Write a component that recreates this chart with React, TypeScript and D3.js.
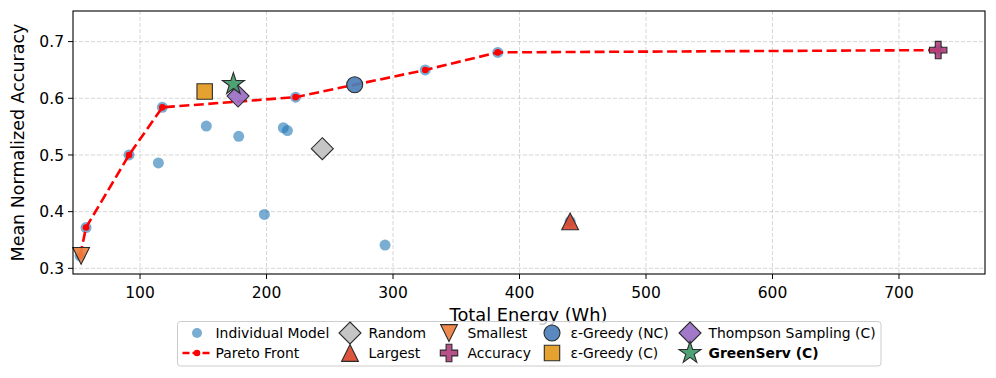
import React from "react";
import * as d3 from "d3";

// Individual models (energy Wh, mean normalized accuracy)
const modelEnergy = [52.6, 57.3, 91.3, 114.5, 117.6, 152.4, 178, 198.3, 213.3, 216.5, 223, 293.7, 325.5, 382.8, 440, 731];
const modelAccuracy = [0.322, 0.372, 0.5, 0.486, 0.584, 0.551, 0.533, 0.395, 0.548, 0.543, 0.602, 0.341, 0.65, 0.681, 0.383, 0.685];

// Pareto front
const paretoEnergy = [52.6, 57.3, 91.3, 117.6, 223, 325.5, 382.8, 731];
const paretoAccuracy = [0.322, 0.372, 0.5, 0.584, 0.602, 0.65, 0.681, 0.685];

// Routing strategies
const strategyNames = ["Random", "Largest", "Smallest", "Accuracy", "ε-Greedy (NC)", "ε-Greedy (C)", "Thompson Sampling (C)", "GreenServ (C)"];
const strategyEnergy = [244.1, 440, 53.4, 731, 269.7, 151.1, 177.5, 173.8];
const strategyAccuracy = [0.511, 0.383, 0.322, 0.685, 0.624, 0.612, 0.604, 0.625];
const strategyShape = ["diamond", "triUp", "triDown", "plus", "circle", "square", "diamond", "star"];
const strategyColor = ["#c0c0c0", "#d9472b", "#ee8040", "#b0437f", "#4b7fb8", "#e49a20", "#9a6cc4", "#3f9a68"];

const xTicks = [100, 200, 300, 400, 500, 600, 700];
const yTicks = [0.3, 0.4, 0.5, 0.6, 0.7];

const W = 996;
const H = 378;
const margin = { left: 73, right: 11, top: 11, bottom: 104 };
const FONT = "DejaVu Sans, sans-serif";

function shapePath(kind: string): string {
  switch (kind) {
    case "circle":
      return d3.symbol(d3.symbolCircle, Math.PI * 8 * 8)() as string;
    case "diamond":
      return "M0,-11L11,0L0,11L-11,0Z";
    case "triUp":
      return "M0,-8.4L8.4,8.4L-8.4,8.4Z";
    case "triDown":
      return "M0,8.4L8.4,-8.4L-8.4,-8.4Z";
    case "square":
      return "M-7.7,-7.7H7.7V7.7H-7.7Z";
    case "plus": {
      const a = 2.9, b = 8.7;
      return `M${-a},${-b}H${a}V${-a}H${b}V${a}H${a}V${b}H${-a}V${a}H${-b}V${-a}H${-a}Z`;
    }
    case "star":
      return d3.symbol(d3.symbolStar, 150)() as string;
    default:
      return "";
  }
}

export default function App() {
  const innerW = W - margin.left - margin.right;
  const innerH = H - margin.top - margin.bottom;
  const x = d3.scaleLinear().domain([47, 768]).range([0, innerW]);
  const y = d3.scaleLinear().domain([0.29, 0.754]).range([innerH, 0]);

  const line = d3
    .line<number>()
    .x((i) => x(paretoEnergy[i]))
    .y((i) => y(paretoAccuracy[i]));

  // legend entries, column-major order with 2 rows
  const legendItems = [
    { label: "Individual Model", kind: "model" },
    { label: "Pareto Front", kind: "pareto" },
    ...strategyNames.map((n, i) => ({ label: n, kind: "strategy", idx: i })),
  ];
  const colX = [197, 350, 449, 552, 690];
  const rowY = [333, 353];

  return (
    <svg width={W} height={H} style={{ position: "absolute", left: 0, top: 0, background: "#fff" }} fontFamily={FONT}>
      <g transform={`translate(${margin.left},${margin.top})`}>
        {/* grid */}
        {xTicks.map((t) => (
          <line key={"gx" + t} x1={x(t)} x2={x(t)} y1={0} y2={innerH} stroke="#b0b0b0" strokeOpacity={0.5} strokeWidth={1} strokeDasharray="4,2" />
        ))}
        {yTicks.map((t) => (
          <line key={"gy" + t} x1={0} x2={innerW} y1={y(t)} y2={y(t)} stroke="#b0b0b0" strokeOpacity={0.5} strokeWidth={1} strokeDasharray="4,2" />
        ))}

        {/* individual models */}
        {modelEnergy.map((e, i) => (
          <circle key={"m" + i} cx={x(e)} cy={y(modelAccuracy[i])} r={5.5} fill="#1f77b4" fillOpacity={0.6} />
        ))}

        {/* pareto front */}
        <path d={line(d3.range(paretoEnergy.length)) as string} fill="none" stroke="#ff0000" strokeWidth={2.6} strokeDasharray="10,4.5" />
        {paretoEnergy.map((e, i) => (
          <circle key={"p" + i} cx={x(e)} cy={y(paretoAccuracy[i])} r={3.3} fill="#ff0000" />
        ))}

        {/* strategies */}
        {strategyEnergy.map((e, i) => (
          <path
            key={"s" + i}
            d={shapePath(strategyShape[i])}
            transform={`translate(${x(e)},${y(strategyAccuracy[i])})`}
            fill={strategyColor[i]}
            fillOpacity={0.92}
            stroke="#2b2b2b"
            strokeWidth={1.1}
          />
        ))}

        {/* spines */}
        <rect x={0} y={0} width={innerW} height={innerH} fill="none" stroke="#000" strokeWidth={1.1} />

        {/* x ticks */}
        {xTicks.map((t) => (
          <g key={"xt" + t} transform={`translate(${x(t)},${innerH})`}>
            <line y1={0} y2={5} stroke="#000" strokeWidth={1} />
            <text y={23.5} textAnchor="middle" fontSize={15.5} fill="#000">{t}</text>
          </g>
        ))}
        {/* y ticks */}
        {yTicks.map((t) => (
          <g key={"yt" + t} transform={`translate(0,${y(t)})`}>
            <line x1={-5} x2={0} stroke="#000" strokeWidth={1} />
            <text x={-9} dy="0.36em" textAnchor="end" fontSize={15.5} fill="#000">{t.toFixed(1)}</text>
          </g>
        ))}
      </g>

      {/* axis labels */}
      <text x={margin.left + innerW / 2 - 0.5} y={321} textAnchor="middle" fontSize={17.8} fill="#000">Total Energy (Wh)</text>
      <text transform={`translate(24,${margin.top + innerH / 2}) rotate(-90)`} textAnchor="middle" fontSize={17.5} fill="#000">Mean Normalized Accuracy</text>

      {/* legend */}
      <rect x={177.5} y={321.5} width={703.5} height={44.5} rx={3} fill="#fff" fillOpacity={0.8} stroke="#cccccc" strokeWidth={1} />
      {legendItems.map((it, k) => {
        const cx = colX[Math.floor(k / 2)];
        const cy = rowY[k % 2];
        let marker: React.ReactNode = null;
        if (it.kind === "model") {
          marker = <circle cx={cx} cy={cy} r={5} fill="#1f77b4" fillOpacity={0.6} />;
        } else if (it.kind === "pareto") {
          marker = (
            <g>
              <line x1={cx - 14.5} x2={cx + 14} y1={cy} y2={cy} stroke="#ff0000" strokeWidth={2.6} strokeDasharray="7,3" />
              <circle cx={cx} cy={cy} r={3.3} fill="#ff0000" />
            </g>
          );
        } else {
          const i = (it as any).idx as number;
          marker = (
            <path
              d={shapePath(strategyShape[i])}
              transform={`translate(${cx},${cy})`}
              fill={strategyColor[i]}
              fillOpacity={0.92}
              stroke="#2b2b2b"
              strokeWidth={1.1}
            />
          );
        }
        return (
          <g key={"lg" + k}>
            {marker}
            <text x={cx + 18.5} y={cy} dy="0.36em" fontSize={13.9} fill="#000" fontWeight={it.label === "GreenServ (C)" ? "bold" : "normal"}>
              {it.label}
            </text>
          </g>
        );
      })}
    </svg>
  );
}
